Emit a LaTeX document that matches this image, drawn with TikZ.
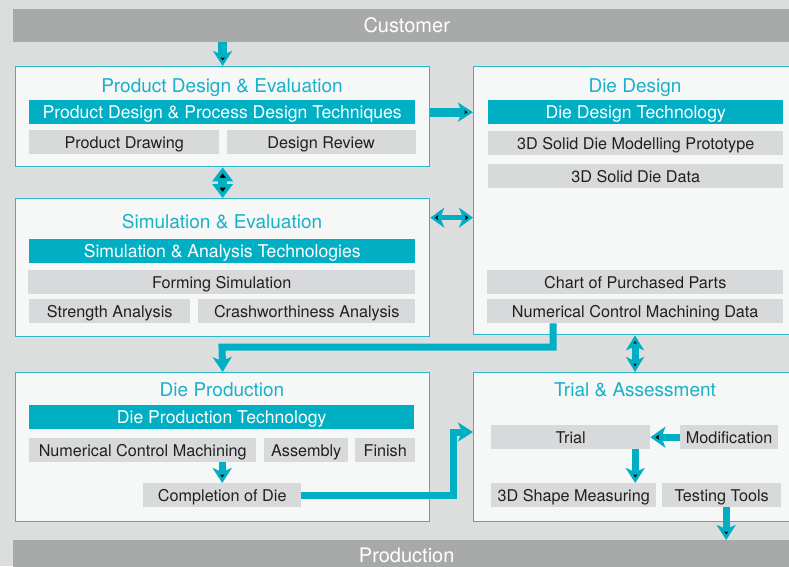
\documentclass[tikz,border=0pt]{standalone}
\usepackage{fontspec}
\setmainfont{TeX Gyre Heros}
\usetikzlibrary{positioning,arrows.meta}
\definecolor{bgGray}{HTML}{DCDDDD}
\definecolor{barGray}{HTML}{A8A9A9}
\definecolor{panelWhite}{HTML}{F6F7F7}
\definecolor{lineCyan}{HTML}{2DB7CA}
\definecolor{techTeal}{HTML}{00AFC4}
\definecolor{itemGray}{HTML}{D8D9DB}
\definecolor{itemInk}{HTML}{231F20}
\definecolor{titleCyan}{HTML}{1AB1C8}

\begin{document}
\begin{tikzpicture}[
    x=1pt, y=-1pt,
    >={Stealth[length=15pt, width=19pt, inset=4pt]},
    node distance=6pt,
    barnode/.style={
        fill=barGray, text=white, anchor=north west, inner sep=0pt,
        minimum width=787pt, text height=14.4pt, text depth=0pt,
        font=\fontsize{20}{22}\selectfont
      },
    panelnode/.style={
        draw=lineCyan, line width=1.3pt, fill=panelWhite,
        anchor=north west, inner sep=0pt
      },
    titlenode/.style={
        text=titleCyan, inner sep=0pt, text height=13.5pt, text depth=0pt,
        font=\fontsize{19}{21}\selectfont
      },
    technode/.style={
        fill=techTeal, text=white, anchor=north west, inner sep=0pt,
        minimum height=24pt, text height=12.7pt, text depth=0pt,
        font=\fontsize{17.6}{19}\selectfont
      },
    itemnode/.style={
        fill=itemGray, text=itemInk, anchor=north west, inner sep=0pt,
        minimum height=24pt, text height=11.7pt, text depth=0pt,
        font=\fontsize{16.2}{18}\selectfont
      },
    flow/.style={draw=techTeal, line width=7pt, line join=miter},
  ]
  \clip (0,0) rectangle (789,566);
  \fill[bgGray] (0,0) rectangle (789,566);

  % top and bottom bars
  \fill[barGray] (13,560) rectangle (800,574);
  \node[barnode, minimum height=33pt](Cust) at (13,9) {Customer};
  \node[barnode, minimum height=30pt](Prod) at (13,540) {Production};

  % product design
  \node[panelnode, minimum width=414pt, minimum height=100pt](PDE) at (15,66) {};
  \node[titlenode](PDEtitle) at (222,86) {Product Design \& Evaluation};
  \node[technode, minimum width=386pt](PDEtech) at (29,100) {Product Design \& Process Design Techniques};
  \node[itemnode, minimum width=190pt](Drawing) at (29,130) {Product Drawing};
  \node[itemnode, minimum width=189pt, anchor=west](Review) [right=7pt of Drawing] {Design Review};

  % simulation
  \node[panelnode, minimum width=414pt, minimum height=138pt](SE) at (15,198) {};
  \node[titlenode](SEtitle) at (222,222) {Simulation \& Evaluation};
  \node[technode, minimum width=386pt](SEtech) at (29,239) {Simulation \& Analysis Technologies};
  \node[itemnode, minimum width=387pt](Forming) at (28,270) {Forming Simulation};
  \node[itemnode, minimum width=161pt](Strength) at (29,299) {Strength Analysis};
  \node[itemnode, minimum width=217pt](Crash) at (198,299) {Crashworthiness Analysis};

  % die design
  \node[panelnode, minimum width=330pt, minimum height=268pt](DD) at (473,66) {};
  \node[titlenode](DDtitle) at (635,86) {Die Design};
  \node[technode, minimum width=295pt](DDtech) at (488,100) {Die Design Technology};
  \node[itemnode, minimum width=295pt](Model) at (488,131) {3D Solid Die Modelling Prototype};
  \node[itemnode, minimum width=295pt](SolidData) at (488,164) {3D Solid Die Data};
  \node[itemnode, minimum width=296pt](Chart) at (487,270) {Chart of Purchased Parts};
  \node[itemnode, minimum width=296pt](NCData) at (487,299) {Numerical Control Machining Data};

  % die production
  \node[panelnode, minimum width=414pt, minimum height=149pt](DP) at (15,372) {};
  \node[titlenode](DPtitle) at (222,390) {Die Production};
  \node[technode, minimum width=385pt](DPtech) at (29,405) {Die Production Technology};
  \node[itemnode, minimum width=227pt](NCM) at (29,438) {Numerical Control Machining};
  \node[itemnode, minimum width=84pt](Assembly) at (264,438) {Assembly};
  \node[itemnode, minimum width=60pt](Finish) at (355,438) {Finish};
  \node[itemnode, minimum width=158pt](Done) at (143,483) {Completion of Die};

  % trial
  \node[panelnode, minimum width=330pt, minimum height=149pt](TA) at (473,372) {};
  \node[titlenode](TAtitle) at (635,390) {Trial \& Assessment};
  \node[itemnode, minimum width=159pt](Trial) at (491,425) {Trial};
  \node[itemnode, minimum width=98pt](Modif) at (680,425) {Modification};
  \node[itemnode, minimum width=165pt](Shape) at (491,483) {3D Shape Measuring};
  \node[itemnode, minimum width=119pt](Tools) at (662,483) {Testing Tools};

  \coordinate (ncBend) at (222,347);
  \coordinate (doneJog) at (453,432);
  \coordinate (trialDrop) at ([xshift=64.5pt]Trial.south);
  \coordinate (toolsDrop) at ([xshift=4.5pt]Tools.south);

  \path[flow]
    (Cust.south -| PDE.north) edge [->, line width=9pt] (PDE.north)
    (PDE.south) edge [line width=9pt, {Triangle[width=20pt,length=14pt]}-{Triangle[width=20pt,length=14pt]}] (SE.north)
    (PDEtech.east -| PDE.east) edge [->, line width=9pt] (PDEtech.east -| DD.west)
    ([yshift=50pt]SE.east) edge [line width=5pt, {Stealth[width=20pt,length=14pt,inset=4pt]}-{Stealth[width=20pt,length=14pt,inset=4pt]}] ([yshift=50pt]SE.east -| DD.west)
    (TAtitle |- DD.south) edge [{Stealth[width=18pt,length=15pt,inset=4pt]}-{Stealth[width=18pt,length=15pt,inset=4pt]}] (TAtitle |- TA.north)
    (Done.north |- NCM.south) edge [->] (Done.north)
    (Modif.west) edge [-{Stealth[width=21pt,length=15pt,inset=4pt]}] (Trial.east)
    (trialDrop) edge [->] (trialDrop |- Shape.north)
    (toolsDrop) edge [->] (toolsDrop |- Prod.north)
  ;
  \draw[flow, ->] ([xshift=-82pt]NCData.south) |- (ncBend) -- (DP.north);
  \draw[flow, ->] (Done.east) -| (doneJog) -- (doneJog -| TA.west);
\end{tikzpicture}
\end{document}
